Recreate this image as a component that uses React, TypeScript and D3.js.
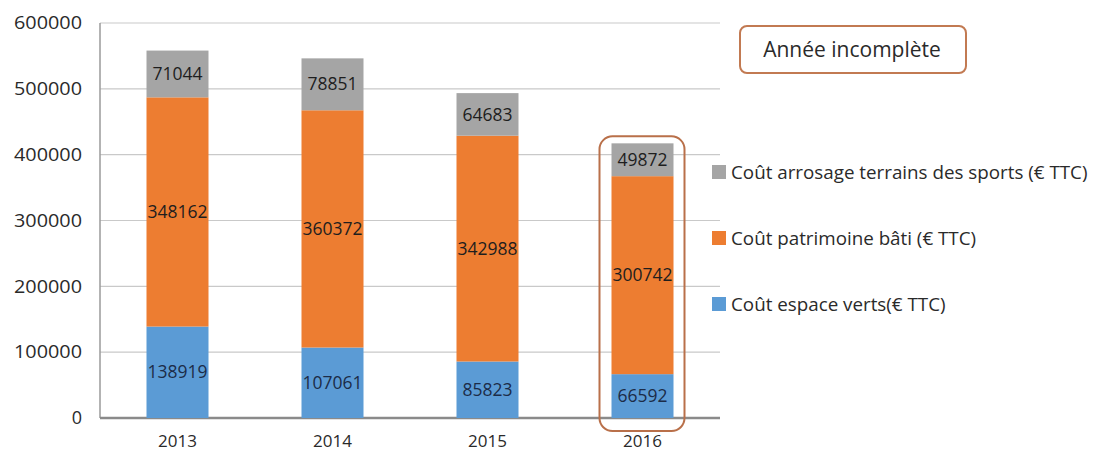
import React from 'react';
import * as d3 from 'd3';

// data
const years = ['2013', '2014', '2015', '2016'];
const espaceVerts = [138919, 107061, 85823, 66592];
const patrimoine = [348162, 360372, 342988, 300742];
const arrosage = [71044, 78851, 64683, 49872];
const yTicks = [0, 100000, 200000, 300000, 400000, 500000, 600000];

const seriesNames = [
  'Coût espace verts(€ TTC)',
  'Coût patrimoine bâti (€ TTC)',
  'Coût arrosage terrains des sports (€ TTC)',
];
const seriesColors = ['#5B9BD5', '#ED7D31', '#A5A5A5'];

const W = 1107;
const H = 454;
const font = "'Open Sans', 'Noto Sans', sans-serif";

const App = () => {
  const left = 100, right = 720, top = 23, bottom = 418;

  const x = d3.scaleBand().domain(years).range([left, right]).paddingInner(0.6).paddingOuter(0.3);
  const y = d3.scaleLinear().domain([0, 600000]).range([bottom, top]);

  const rows = years.map((yr, i) => ({
    year: yr,
    s0: espaceVerts[i],
    s1: patrimoine[i],
    s2: arrosage[i],
  }));
  const stacked = d3.stack<any>().keys(['s0', 's1', 's2'])(rows);

  // legend order: top to bottom is arrosage, patrimoine, espace
  const legendOrder = [2, 1, 0];
  const legendY = [172, 238, 304];

  const last = years[years.length - 1];
  const lastX = x(last)!;
  const lastTotal = espaceVerts[3] + patrimoine[3] + arrosage[3];

  return (
    <svg width={W} height={H} style={{ position: 'absolute', left: 0, top: 0, background: '#fff' }}
      fontFamily={font}>
      {/* gridlines */}
      {yTicks.map((t) => (
        <line key={t} x1={left} x2={right} y1={y(t)} y2={y(t)} stroke="#c9c9c9" strokeWidth={1.2} />
      ))}
      {/* axes */}
      <line x1={left} x2={left} y1={top} y2={bottom} stroke="#9a9a9a" strokeWidth={1.5} />
      <line x1={left} x2={right} y1={bottom} y2={bottom} stroke="#8a8a8a" strokeWidth={2.5} />
      {yTicks.map((t) => (
        <text key={t} x={82} y={y(t)} dy="0.35em" textAnchor="end" fontSize={18} fill="#2a2a2a"
          textLength={t === 0 ? undefined : 68} lengthAdjust="spacingAndGlyphs">
          {t}
        </text>
      ))}
      {years.map((yr) => (
        <text key={yr} x={x(yr)! + x.bandwidth() / 2} y={441} dy="0.35em" textAnchor="middle"
          fontSize={17} fill="#2a2a2a">
          {yr}
        </text>
      ))}

      {/* bars */}
      {stacked.map((layer, si) => (
        <g key={si}>
          {layer.map((d, i) => (
            <g key={i}>
              <rect x={x(years[i])} width={x.bandwidth()} y={y(d[1])} height={y(d[0]) - y(d[1])}
                fill={seriesColors[si]} />
              <text x={x(years[i])! + x.bandwidth() / 2} y={y((d[0] + d[1]) / 2)} dy="0.35em"
                textAnchor="middle" fontSize={17.5} fill={si === 0 ? '#1c2c48' : '#1e1e1e'}>
                {d[1] - d[0]}
              </text>
            </g>
          ))}
        </g>
      ))}

      {/* highlight of incomplete year */}
      <rect x={lastX - 12} y={y(lastTotal) - 7} width={x.bandwidth() + 23}
        height={bottom + 13 - (y(lastTotal) - 7)} rx={13} fill="none" stroke="#B9704A" strokeWidth={2} />

      {/* annotation */}
      <rect x={740} y={26} width={226} height={47} rx={7} fill="#fff" stroke="#C27A52" strokeWidth={2} />
      <text x={852} y={50} dy="0.35em" textAnchor="middle" fontSize={21} fill="#2a2a2a">
        Année incomplète
      </text>

      {/* legend */}
      {legendOrder.map((si, k) => (
        <g key={si}>
          <rect x={712} y={legendY[k] - 7} width={14} height={14} fill={seriesColors[si]} />
          <text x={731} y={legendY[k]} dy="0.35em" fontSize={18.8} fill="#2a2a2a">
            {seriesNames[si]}
          </text>
        </g>
      ))}
    </svg>
  );
};

export default App;
